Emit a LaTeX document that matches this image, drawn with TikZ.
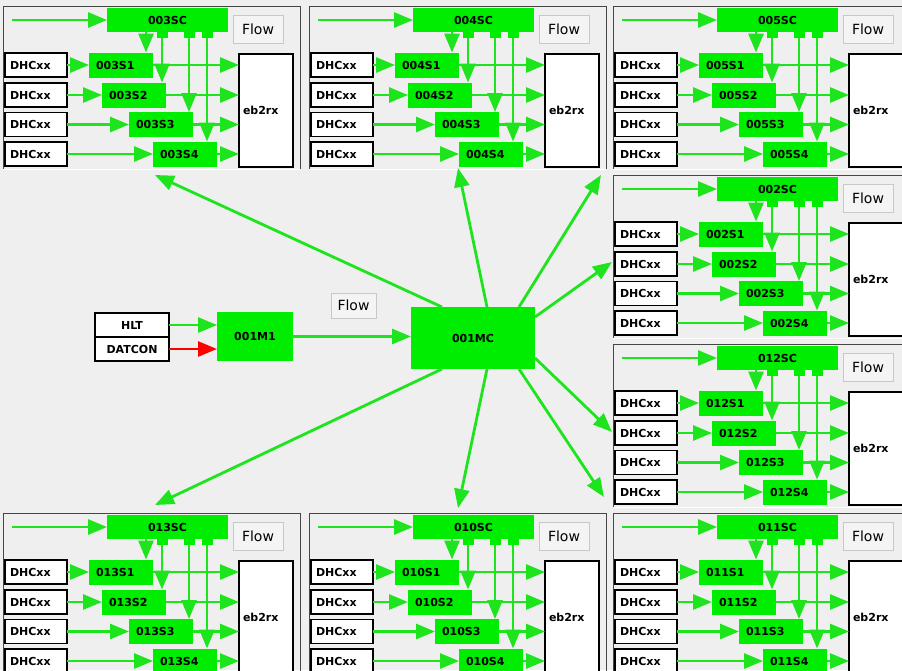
\documentclass[tikz,border=0pt]{standalone}
\usepackage{fontspec}
\setmainfont{DejaVu Sans}
\usetikzlibrary{arrows.meta,calc}
\definecolor{bgc}{RGB}{239,239,239}
\definecolor{gbox}{RGB}{0,236,0}
\definecolor{gline}{RGB}{30,228,30}
\definecolor{framec}{RGB}{70,70,70}
\definecolor{btnfill}{RGB}{244,244,244}
\definecolor{btnedge}{RGB}{200,200,200}
\definecolor{redline}{RGB}{255,0,0}
\tikzset{
  lbl/.style={font=\fontsize{11}{13}\selectfont\bfseries},
  gbx/.style={fill=gbox, draw=none, inner sep=0pt, outer sep=0pt, lbl},
  sbox/.style={gbx, minimum height=25pt, text width=50pt, inner xsep=7pt, align=left},
  wbox/.style={fill=white, draw=black, line width=1.2pt, inner sep=0pt, outer sep=0pt, lbl},
  dhc/.style={wbox, minimum height=24pt, text width=52pt, inner xsep=5pt, align=left},
  ebbox/.style={wbox, minimum height=113pt, text width=46pt, inner xsep=4pt, align=left},
  flowbtn/.style={fill=btnfill, draw=btnedge, line width=1pt, minimum width=50pt, minimum height=28pt, inner sep=0pt, font=\fontsize{14}{16}\selectfont},
  frameline/.style={draw=framec, line width=1pt},
  garrow/.style={draw=gline, line width=2.8pt, -{Triangle[length=19pt,width=15pt]}},
  rarrow/.style={draw=redline, line width=2.8pt, -{Triangle[length=19pt,width=15pt]}},
}
\newcommand{\drawpanel}[3]{%
\begin{scope}[shift={(#1,#2)}]
  \draw[frameline] (0,163) -- (0,0) -- (297,0) -- (297,163);
  \draw[white, line width=1pt] (0,163) -- (297,163);
  \node[flowbtn] (p#3flow) at (255,23) {Flow};
  \node[gbx, minimum width=121pt, minimum height=24pt] (p#3sc) at (164.5,14) {#3SC};
  \node[gbx, minimum width=11pt, minimum height=7pt, anchor=north] (p#3ta) at (159,25) {};
  \node[gbx, minimum width=11pt, minimum height=7pt, anchor=north] (p#3tb) at (186,25) {};
  \node[gbx, minimum width=11pt, minimum height=7pt, anchor=north] (p#3tc) at (204,25) {};
  \node[dhc] (p#3d1) at (33,59) {DHCxx};
  \node[dhc] (p#3d2) at (33,89) {DHCxx};
  \node[dhc] (p#3d3) at (33,118.5) {DHCxx};
  \node[dhc] (p#3d4) at (33,148) {DHCxx};
  \node[sbox] (p#3s1) at (118,59) {#3S1};
  \node[sbox] (p#3s2) at (131,89) {#3S2};
  \node[sbox] (p#3s3) at (158,118.5) {#3S3};
  \node[sbox] (p#3s4) at (182,148) {#3S4};
  \node[ebbox, minimum width=54pt] (p#3eb) at (263,104.5) {eb2rx};
  \coordinate (p#3in) at (9,14);
  \coordinate (p#3k) at (143,26);
  \draw[garrow] (p#3in) -- (p#3sc.west);
  \draw[garrow] (p#3k) -- (p#3k |- p#3s1.north);
  \draw[garrow] (p#3ta.south) -- (p#3ta.south |- p#3s2.north);
  \draw[garrow] (p#3tb.south) -- (p#3tb.south |- p#3s3.north);
  \draw[garrow] (p#3tc.south) -- (p#3tc.south |- p#3s4.north);
  \draw[garrow] (p#3d1.east) -- (p#3s1.west);
  \draw[garrow] (p#3d2.east) -- (p#3s2.west);
  \draw[garrow] (p#3d3.east) -- (p#3s3.west);
  \draw[garrow] (p#3d4.east) -- (p#3s4.west);
  \draw[garrow] (p#3s1.east) -- (p#3s1.east -| p#3eb.west);
  \draw[garrow] (p#3s2.east) -- (p#3s2.east -| p#3eb.west);
  \draw[garrow] (p#3s3.east) -- (p#3s3.east -| p#3eb.west);
  \draw[garrow] (p#3s4.east) -- (p#3s4.east -| p#3eb.west);
\end{scope}}
\begin{document}
\begin{tikzpicture}[x=1pt,y=-1pt]
\useasboundingbox (0,0) rectangle (902,670);
\clip (0,0) rectangle (902,670);
\fill[bgc] (0,0) rectangle (902,670);
\drawpanel{3}{6}{003}
\drawpanel{309}{6}{004}
\drawpanel{613}{6}{005}
\drawpanel{613}{175}{002}
\drawpanel{613}{344}{012}
\drawpanel{3}{513}{013}
\drawpanel{309}{513}{010}
\drawpanel{613}{513}{011}
% centre
\node[wbox, minimum width=74pt, minimum height=24pt] (hlt) at (132,325) {HLT};
\node[wbox, minimum width=74pt, minimum height=24pt] (datcon) at (132,349) {DATCON};
\node[gbx, minimum width=76pt, minimum height=49pt] (m1) at (255,336.5) {001M1};
\node[gbx, minimum width=124pt, minimum height=62pt] (mc) at (473,338) {001MC};
\node[flowbtn, minimum width=45pt, minimum height=25pt] (cflow) at (353.5,305.5) {Flow};
\draw[garrow] (hlt.east) -- (hlt.east -| m1.west);
\draw[rarrow] (datcon.east) -- (datcon.east -| m1.west);
\draw[garrow] (m1.east) -- (m1.east -| mc.west);
\coordinate (t003) at (155,175);
\coordinate (t004) at (458,168);
\coordinate (t005) at (601,175);
\coordinate (t002) at (612,262);
\coordinate (t012) at (612,432);
\coordinate (t011) at (604,497);
\coordinate (t010) at (458,508);
\coordinate (t013) at (155,505);
\draw[garrow] ($(mc.north west)+(31,0)$) -- (t003);
\draw[garrow] ($(mc.north west)+(76,0)$) -- (t004);
\draw[garrow] ($(mc.north west)+(108,0)$) -- (t005);
\draw[garrow] ($(mc.north east)+(0,10)$) -- (t002);
\draw[garrow] ($(mc.south east)+(0,-11)$) -- (t012);
\draw[garrow] ($(mc.south west)+(108,0)$) -- (t011);
\draw[garrow] ($(mc.south west)+(76,0)$) -- (t010);
\draw[garrow] ($(mc.south west)+(31,0)$) -- (t013);
\end{tikzpicture}
\end{document}
